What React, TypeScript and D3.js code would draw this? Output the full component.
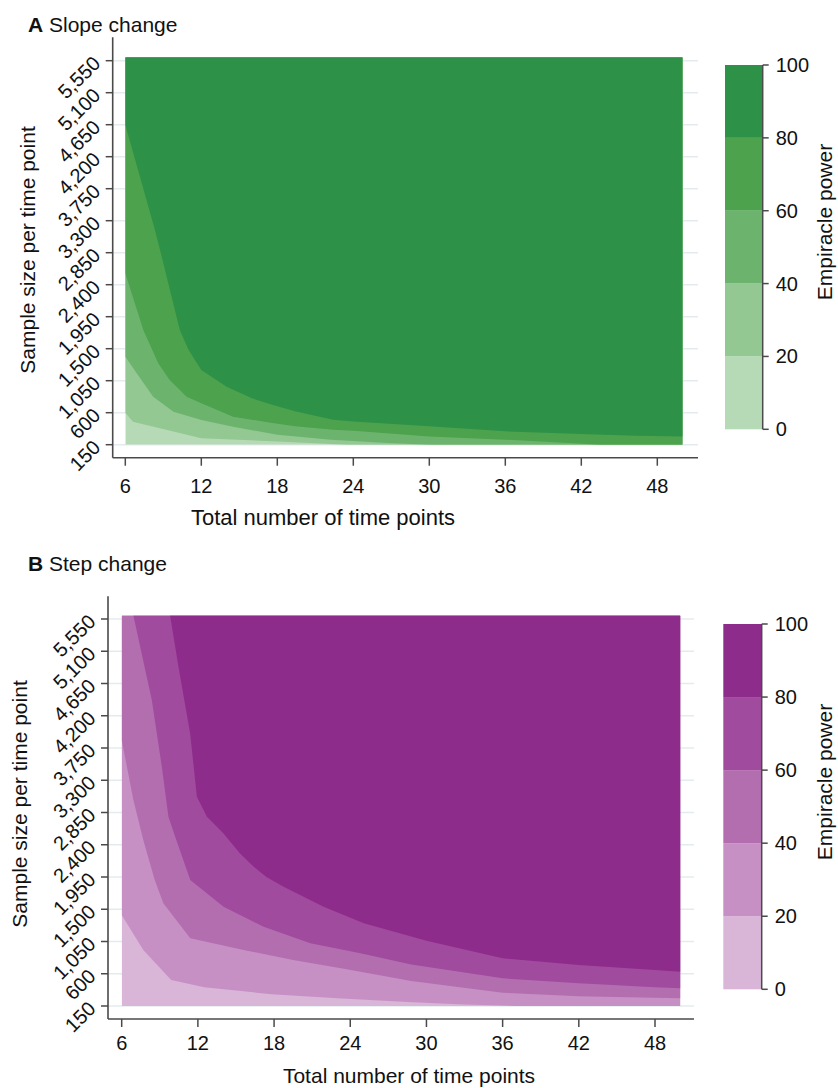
import React from 'react';
import * as d3 from 'd3';

// ---------- data ----------
const timePointTicks = [6, 12, 18, 24, 30, 36, 42, 48];
const sampleSizeTicks = [150, 600, 1050, 1500, 1950, 2400, 2850, 3300, 3750, 4200, 4650, 5100, 5550];
const powerTicks = [0, 20, 40, 60, 80, 100];
const timeExtent = [6, 50];
const sampleExtent = [150, 5600];

// contour lines [total time points, sample size] where power crosses 20, 40, 60, 80
const slope20: [number, number][] = [[6, 600], [6.6, 473], [9.3, 357], [12, 240], [18, 195], [21, 170], [23.5, 150], [50, 150]];
const slope40: [number, number][] = [[6, 1387], [6.9, 1154], [8.2, 825], [9.8, 614], [12, 497], [14.5, 403], [18, 290], [22.2, 220], [26.7, 173], [30, 150], [50, 150]];
const slope60: [number, number][] = [[6, 2560], [7.42, 1762], [8.6, 1294], [9.5, 1060], [10.84, 825], [12, 732], [14.5, 544], [17.6, 455], [19.4, 408], [22.4, 361], [24, 347], [30, 267], [36, 220], [41, 173], [43.5, 150], [50, 150]];
const slope80: [number, number][] = [[6, 4650], [8.34, 3169], [9.0, 2705], [10.3, 1762], [11.0, 1481], [12, 1200], [14, 965], [16, 802], [17.6, 713], [19.4, 619], [22.4, 502], [24, 478], [30, 408], [36, 338], [42, 300], [46.3, 277], [50, 267]];

const step20: [number, number][] = [[6, 1420], [7.7, 930], [9.9, 513], [12.5, 410], [17.8, 315], [23, 257], [28.5, 205], [33, 170], [37, 150], [50, 150]];
const step40: [number, number][] = [[6, 3861], [6.92, 3024], [7.7, 2466], [8.6, 1908], [9.28, 1583], [11.4, 1094], [15.6, 931], [19.5, 792], [23.5, 670], [28.8, 500], [36, 335], [42, 285], [50, 257]];
const step60: [number, number][] = [[6.92, 5600], [8.37, 4419], [9.16, 3488], [9.68, 2791], [10.3, 2466], [11.4, 1908], [14.02, 1535], [17.18, 1256], [20.86, 1025], [24.8, 885], [28.8, 730], [36, 536], [42, 467], [48, 410], [50, 397]];
const step80: [number, number][] = [[9.81, 5600], [10.47, 4883], [11.39, 3954], [11.92, 3070], [12.71, 2791], [14.0, 2559], [15.3, 2280], [16.4, 2093], [17.4, 1950], [18.75, 1814], [21.9, 1535], [25.07, 1303], [28.8, 1120], [30, 1060], [36, 815], [42, 722], [48, 652], [50, 628]];

const greenColors = ['#b7dab6', '#93c893', '#6cb46e', '#4da24d', '#2d9148'];
const purpleColors = ['#d9b5d7', '#c690c4', '#b36eb0', '#a04b9e', '#8e2c8c'];

const FONT = '"Liberation Sans", Arial, Helvetica, sans-serif';
const AXIS = '#4a4a4a';

type Layout = {
  x6: number; x48: number; y150: number; y5550: number;
  axisX: number; axisY: number; axisTop: number; axisRight: number;
  cbX: number; cbW: number; cb0: number; cb100: number;
  titleY: number; xTickY: number; xTitleX: number; xTitleY: number; xTitleSize: number;
  yTitleX: number; yTitleY: number; cbTitleX: number; cbTitleY: number;
};

function Panel({ id, letter, title, contours, colors, L }: {
  id: string; letter: string; title: string; contours: [number, number][][]; colors: string[]; L: Layout;
}) {
  const x = d3.scaleLinear().domain([6, 48]).range([L.x6, L.x48]);
  const y = d3.scaleLinear().domain([150, 5550]).range([L.y150, L.y5550]);
  const cb = d3.scaleLinear().domain([0, 100]).range([L.cb0, L.cb100]);
  const line = d3.line<[number, number]>().x(d => x(d[0])).y(d => y(d[1]));
  const dx0 = x(timeExtent[0]), dx1 = x(timeExtent[1]);
  const dy0 = y(sampleExtent[1]), dy1 = y(sampleExtent[0]);
  return (
    <g fontFamily={FONT} fill="#111">
      <defs>
        <clipPath id={`clip-${id}`}>
          <rect x={dx0} y={dy0} width={dx1 - dx0} height={dy1 - dy0} />
        </clipPath>
      </defs>
      <text x={28} y={L.titleY} fontSize={21}>
        <tspan fontWeight="bold">{letter}</tspan>
        <tspan> {title}</tspan>
      </text>
      {sampleSizeTicks.map(t => (
        <line key={`g${t}`} x1={L.axisX} x2={L.axisRight} y1={y(t)} y2={y(t)} stroke="#e4ebee" strokeWidth={1.5} />
      ))}
      <g clipPath={`url(#clip-${id})`}>
        <rect x={dx0} y={dy0} width={dx1 - dx0} height={dy1 - dy0} fill={colors[0]} />
        {contours.map((c, i) => (
          <path key={`c${i}`} fill={colors[i + 1]}
            d={line([...c, [timeExtent[1], sampleExtent[1]], [timeExtent[0], sampleExtent[1]]]) + 'Z'} />
        ))}
      </g>
      <line x1={L.axisX} x2={L.axisX} y1={L.axisTop} y2={L.axisY} stroke={AXIS} strokeWidth={1.6} />
      {sampleSizeTicks.map(t => (
        <g key={`yt${t}`}>
          <line x1={L.axisX - 7} x2={L.axisX} y1={y(t)} y2={y(t)} stroke={AXIS} strokeWidth={1.5} />
          <text transform={`translate(${L.axisX - 16},${y(t) - 1}) rotate(-45)`} textAnchor="end"
            dominantBaseline="central" fontSize={20}>{d3.format(',')(t)}</text>
        </g>
      ))}
      <line x1={L.axisX} x2={L.axisRight} y1={L.axisY} y2={L.axisY} stroke={AXIS} strokeWidth={1.6} />
      {timePointTicks.map(t => (
        <g key={`xt${t}`}>
          <line x1={x(t)} x2={x(t)} y1={L.axisY} y2={L.axisY + 8} stroke={AXIS} strokeWidth={1.5} />
          <text x={x(t)} y={L.xTickY} textAnchor="middle" fontSize={20}>{t}</text>
        </g>
      ))}
      <text x={L.xTitleX} y={L.xTitleY} textAnchor="middle" fontSize={L.xTitleSize}>Total number of time points</text>
      <text transform={`translate(${L.yTitleX},${L.yTitleY}) rotate(-90)`} textAnchor="middle" fontSize={21}>
        Sample size per time point
      </text>
      {colors.map((col, i) => (
        <rect key={`cb${i}`} x={L.cbX} width={L.cbW} y={cb(powerTicks[i + 1])}
          height={cb(powerTicks[i]) - cb(powerTicks[i + 1])} fill={col} />
      ))}
      <line x1={L.cbX + L.cbW} x2={L.cbX + L.cbW} y1={cb(0)} y2={cb(100)} stroke={AXIS} strokeWidth={1.5} />
      {powerTicks.map(t => (
        <g key={`ct${t}`}>
          <line x1={L.cbX + L.cbW} x2={L.cbX + L.cbW + 6} y1={cb(t)} y2={cb(t)} stroke={AXIS} strokeWidth={1.5} />
          <text x={L.cbX + L.cbW + 13} y={cb(t)} dominantBaseline="central" fontSize={20}>{t}</text>
        </g>
      ))}
      <text transform={`translate(${L.cbTitleX},${L.cbTitleY}) rotate(-90)`} textAnchor="middle" fontSize={21}>
        Empiracle power
      </text>
    </g>
  );
}

const layoutA: Layout = {
  x6: 125.3, x48: 657.3, y150: 444.7, y5550: 60.7,
  axisX: 112.7, axisY: 457.7, axisTop: 37.3, axisRight: 698,
  cbX: 725, cbW: 37.7, cb0: 429.3, cb100: 65,
  titleY: 31.5, xTickY: 492.5, xTitleX: 323, xTitleY: 525, xTitleSize: 22,
  yTitleX: 35, yTitleY: 250, cbTitleX: 832, cbTitleY: 222,
};
const layoutB: Layout = {
  x6: 121.7, x48: 655, y150: 1006, y5550: 619,
  axisX: 108, axisY: 1019, axisTop: 596.3, axisRight: 694,
  cbX: 723.3, cbW: 38.4, cb0: 989.3, cb100: 624,
  titleY: 571, xTickY: 1049.5, xTitleX: 409, xTitleY: 1083, xTitleSize: 21,
  yTitleX: 27, yTitleY: 804, cbTitleX: 832, cbTitleY: 782,
};

export default function App() {
  return (
    <svg width={838} height={1088} style={{ position: 'absolute', left: 0, top: 0, background: '#fff' }}>
      <rect width={838} height={1088} fill="#fff" />
      <Panel id="a" letter="A" title="Slope change" contours={[slope20, slope40, slope60, slope80]} colors={greenColors} L={layoutA} />
      <Panel id="b" letter="B" title="Step change" contours={[step20, step40, step60, step80]} colors={purpleColors} L={layoutB} />
    </svg>
  );
}
